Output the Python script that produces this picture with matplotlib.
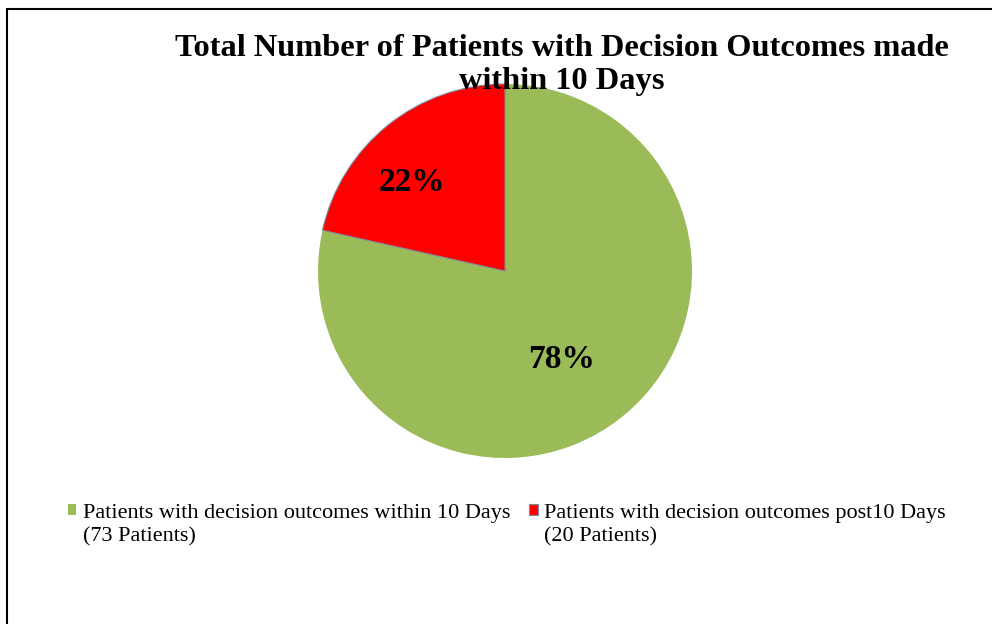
"""Pie chart: patients with decision outcomes within 10 days."""

import matplotlib.pyplot as plt
from matplotlib.patches import Rectangle

CATEGORIES = [
    "Patients with decision outcomes within 10 Days",
    "Patients with decision outcomes post10 Days",
]
CATEGORY_COUNTS = ["(73 Patients)", "(20 Patients)"]
PATIENTS = [73, 20]
COLORS = ["#9BBB59", "#FF0000"]
TITLE = "Total Number of Patients with Decision Outcomes made\nwithin 10 Days"

W, H = 992, 624
CX, CY, R = 505, 271, 187


def main() -> int:
    plt.rcParams["font.family"] = ["Liberation Serif", "DejaVu Serif"]
    fig = plt.figure(figsize=(W / 100, H / 100), dpi=100)

    # outer chart frame (right and bottom run off the image)
    fig.patches.append(
        Rectangle((7 / W, -0.1), 1.2, 1 - 9 / H + 0.1, transform=fig.transFigure,
                  fill=False, edgecolor="black", linewidth=1.5)
    )

    ax = fig.add_axes([(CX - R) / W, (H - CY - R) / H, 2 * R / W, 2 * R / H])
    wedges, texts, autotexts = ax.pie(
        PATIENTS,
        colors=COLORS,
        startangle=90,
        counterclock=False,
        autopct="%1.0f%%",
        radius=1.0,
        wedgeprops={"linewidth": 0},
        textprops={"fontsize": 24, "fontweight": "bold", "color": "black"},
    )
    wedges[1].set_edgecolor("#7f8aa0")
    wedges[1].set_linewidth(0.8)
    autotexts[0].set_position((0.305, -0.475))
    autotexts[1].set_position((-0.497, 0.475))
    ax.set_xlim(-1, 1)
    ax.set_ylim(-1, 1)
    ax.set_aspect("equal")
    ax.axis("off")

    fig.text(562 / W, 1 - 65 / H, TITLE, ha="center", va="center",
             fontsize=23.3, fontweight="bold", linespacing=1.15)

    # second label line gets its own legend row with an invisible handle
    blank = [Rectangle((0, 0), 1, 1, fill=False, edgecolor="none") for _ in CATEGORIES]
    handles = [wedges[0], blank[0], wedges[1], blank[1]]
    labels = [CATEGORIES[0], CATEGORY_COUNTS[0], CATEGORIES[1], CATEGORY_COUNTS[1]]
    fig.legend(
        handles, labels,
        loc="upper left", bbox_to_anchor=(50 / W, 1 - 486 / H),
        ncol=2, frameon=False, fontsize=16,
        handlelength=0.38, handleheight=0.38, handletextpad=0.3,
        columnspacing=0.85, labelspacing=0.19, borderpad=0.3,
    )

    fig.savefig("out.png", dpi=100)
    plt.close(fig)
    return 0


if __name__ == "__main__":
    raise SystemExit(main())
